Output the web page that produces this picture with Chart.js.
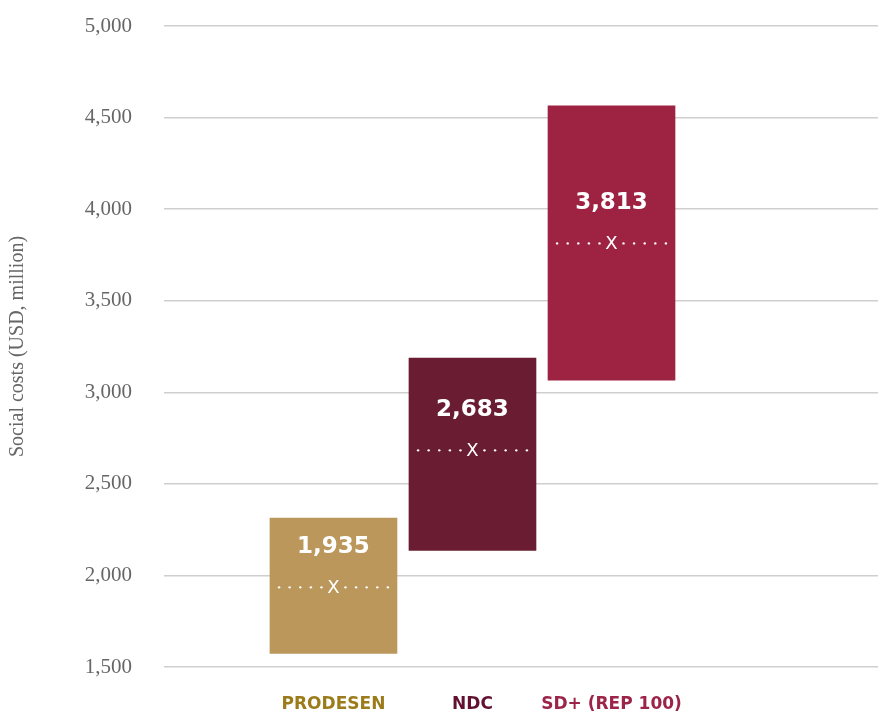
<!DOCTYPE html>
<html>
<head>
<meta charset="utf-8">
<script src="https://cdn.jsdelivr.net/npm/chart.js@4.4.0/dist/chart.umd.min.js"></script>
<style>
  html, body { margin: 0; padding: 0; background: #ffffff; }
  #wrap { width: 878px; height: 713px; }
</style>
</head>
<body>
<div id="wrap"><canvas id="mycanvas" width="878" height="713"></canvas></div>
<script>
// values
var categories = ['PRODESEN', 'NDC', 'SD+ (REP 100)'];
var lowValues = [1574, 2137, 3066];
var highValues = [2313, 3187, 4564];
var meanValues = [1935, 2683, 3813];
var barColors = ['#bb975c', '#691c32', '#9e2241'];
var labelColors = ['#9b7b1a', '#621132', '#9d2449'];
var yTicks = { min: 1500, max: 5000, step: 500 };

var points = [];
for (var i in categories) {
    points.push({ x: Number(i) + 1, y: [lowValues[i], highValues[i]] });
}

// draws the mean marker (dotted line + X) and the value label on each bar
var meanMarker = {
    id: 'meanMarker',
    afterDatasetsDraw: function(chart) {
        var ctx = chart.ctx;
        var yScale = chart.scales.y;
        var meta = chart.getDatasetMeta(0);
        meta.data.forEach(function(bar, i) {
            var y = yScale.getPixelForValue(meanValues[i]);
            var left = bar.x - bar.width / 2;
            var right = bar.x + bar.width / 2;
            ctx.save();
            ctx.fillStyle = '#ffffff';
            for (var k = 0; k < 8; k++) {
                var off = 12 + k * 10.6;
                if (bar.x - off >= left) {
                    ctx.beginPath(); ctx.arc(bar.x - off, y, 1.2, 0, Math.PI * 2); ctx.fill();
                }
                if (bar.x + off <= right) {
                    ctx.beginPath(); ctx.arc(bar.x + off, y, 1.2, 0, Math.PI * 2); ctx.fill();
                }
            }
            ctx.textAlign = 'center';
            ctx.textBaseline = 'middle';
            ctx.font = '18px "DejaVu Sans"';
            ctx.fillText('X', bar.x, y + 1);
            ctx.font = 'bold 23px "DejaVu Sans"';
            ctx.fillText(meanValues[i].toLocaleString('en-US'), bar.x, y - 40);
            ctx.restore();
        });
    }
};

var ctx = document.getElementById('mycanvas');

var barGraph = new Chart(ctx, {
    type: 'bar',
    data: {
        datasets: [{
            data: points,
            backgroundColor: barColors,
            borderWidth: 0,
            barThickness: 127
        }]
    },
    options: {
        responsive: false,
        animation: false,
        layout: { padding: { top: 26, right: 0, bottom: 0, left: 0 } },
        plugins: {
            legend: { display: false },
            tooltip: { enabled: false }
        },
        scales: {
            x: {
                type: 'linear',
                offset: false,
                min: -0.219,
                max: 4.917,
                grid: { display: false, drawTicks: false },
                border: { display: false },
                afterBuildTicks: function(axis) {
                    axis.ticks = categories.map(function(c, i) { return { value: i + 1 }; });
                },
                afterFit: function(scale) {
                    scale.height = 46;
                    scale.paddingLeft = 0;
                    scale.paddingRight = 0;
                },
                ticks: {
                    autoSkip: false,
                    maxRotation: 0,
                    padding: 27,
                    font: { family: 'DejaVu Sans', size: 17, weight: 'bold' },
                    color: function(c) { return labelColors[c.index]; },
                    callback: function(value) { return categories[value - 1]; }
                }
            },
            y: {
                min: yTicks.min,
                max: yTicks.max,
                afterFit: function(scale) {
                    scale.width = 164;
                    scale.paddingTop = 0;
                    scale.paddingBottom = 0;
                },
                grid: { color: '#cfcfcf', lineWidth: 1.5, drawTicks: false },
                border: { display: false },
                ticks: {
                    stepSize: yTicks.step,
                    padding: 32,
                    color: '#666666',
                    font: { family: 'Liberation Serif', size: 21 }
                },
                title: {
                    display: true,
                    text: 'Social costs (USD, million)',
                    color: '#666666',
                    padding: { top: 6, bottom: 0 },
                    font: { family: 'Liberation Serif', size: 20 }
                }
            }
        }
    },
    plugins: [meanMarker]
});
</script>
</body>
</html>
